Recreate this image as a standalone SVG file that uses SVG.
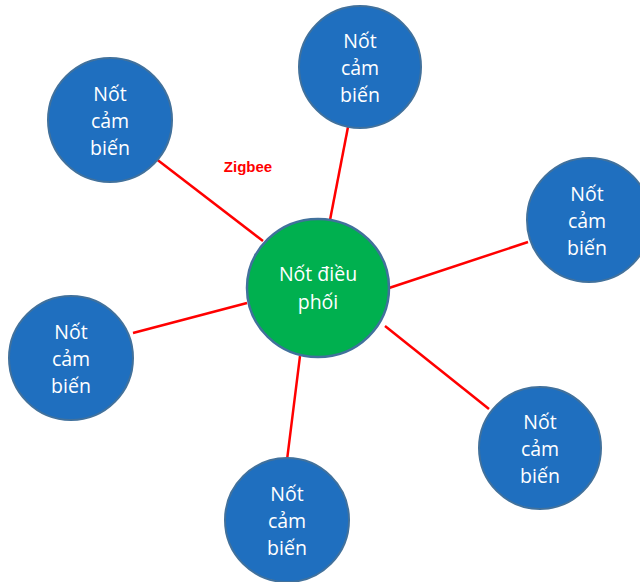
<svg xmlns="http://www.w3.org/2000/svg" width="640" height="582" viewBox="0 0 640 582">
<style>
.edge{stroke:#FF0000;stroke-width:2.5;fill:none}
.sensor{fill:#1F6FBF;stroke:#41719C;stroke-width:2}
.coord{fill:#00B04F;stroke:#41719C;stroke-width:2.5}
.lbl{font-family:"Open Sans","Noto Sans","Liberation Sans",sans-serif;font-size:19.5px;fill:#FFFFFF;text-anchor:middle}
.zb{font-family:"Liberation Sans","Open Sans",sans-serif;font-size:15px;font-weight:bold;fill:#FF0000;text-anchor:middle}
</style>
<rect width="640" height="582" fill="#FFFFFF"/>
<g id="connectors">
<line class="edge" x1="155" y1="158" x2="263" y2="241"/>
<line class="edge" x1="348" y1="127" x2="330" y2="220"/>
<line class="edge" x1="528" y1="242" x2="389" y2="288"/>
<line class="edge" x1="133" y1="333" x2="247" y2="303"/>
<line class="edge" x1="385" y1="326" x2="489" y2="409"/>
<line class="edge" x1="300" y1="356" x2="287" y2="460"/>
</g>
<text class="zb" x="248" y="172">Zigbee</text>
<g id="coordinator">
<ellipse class="coord" cx="318" cy="288" rx="71" ry="69"/>
<text class="lbl" x="318" y="281">Nốt điều</text>
<text class="lbl" x="318" y="309">phối</text>
</g>
<g id="sensor-topleft">
<circle class="sensor" cx="110" cy="120" r="62"/>
<text class="lbl" x="110" y="101">Nốt</text>
<text class="lbl" x="110" y="128">cảm</text>
<text class="lbl" x="110" y="155">biến</text>
</g>
<g id="sensor-top">
<circle class="sensor" cx="360" cy="67" r="61"/>
<text class="lbl" x="360" y="48">Nốt</text>
<text class="lbl" x="360" y="75">cảm</text>
<text class="lbl" x="360" y="102">biến</text>
</g>
<g id="sensor-right">
<circle class="sensor" cx="589" cy="220" r="62"/>
<text class="lbl" x="587" y="201">Nốt</text>
<text class="lbl" x="587" y="228">cảm</text>
<text class="lbl" x="587" y="255">biến</text>
</g>
<g id="sensor-left">
<circle class="sensor" cx="71" cy="358" r="62"/>
<text class="lbl" x="71" y="339">Nốt</text>
<text class="lbl" x="71" y="366">cảm</text>
<text class="lbl" x="71" y="393">biến</text>
</g>
<g id="sensor-bottomright">
<circle class="sensor" cx="540" cy="448" r="61"/>
<text class="lbl" x="540" y="429">Nốt</text>
<text class="lbl" x="540" y="456">cảm</text>
<text class="lbl" x="540" y="483">biến</text>
</g>
<g id="sensor-bottom">
<circle class="sensor" cx="287" cy="520" r="62"/>
<text class="lbl" x="287" y="501">Nốt</text>
<text class="lbl" x="287" y="528">cảm</text>
<text class="lbl" x="287" y="555">biến</text>
</g>
</svg>
